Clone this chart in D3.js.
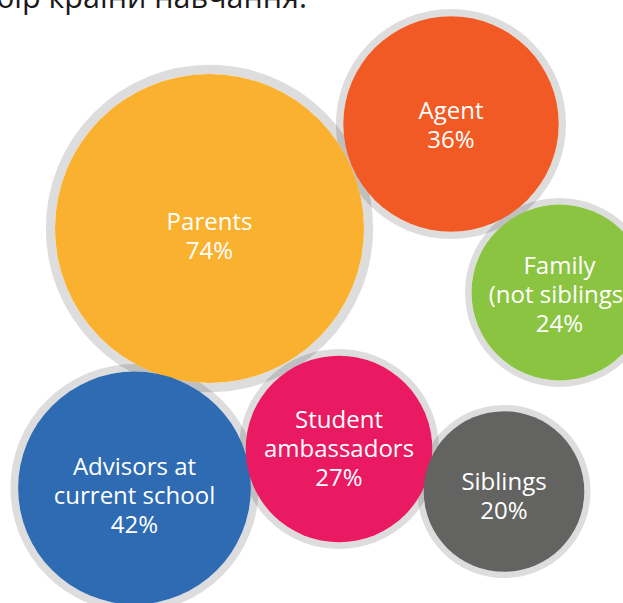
<!DOCTYPE html>
<html>
<head>
<meta charset="utf-8">
<script src="https://cdn.jsdelivr.net/npm/d3@7"></script>
<style>
  html, body { margin: 0; padding: 0; background: #fff; overflow: hidden; }
  svg { display: block; }
</style>
</head>
<body>
<svg id="chart" width="623" height="603"></svg>
<script>
// ---- data ----
const titleText = "Хто впливає на вибір країни навчання.";
const categories = ["Parents", "Agent", "Family\n(not siblings)", "Advisors at\ncurrent school", "Student\nambassadors", "Siblings"];
const values = [74, 36, 24, 42, 27, 20];
const colors = ["#FAB12F", "#F15A24", "#8BC441", "#2E6BB2", "#E91962", "#636461"];

// ---- layout (bubble centres and label offsets in px) ----
const centresX = [209.5, 451, 559.5, 134.5, 339, 504];
const centresY = [228.5, 124, 292.5, 488, 449, 491.5];
const labelDy = [15.5, 9, 10.5, 16, 8, 12.5];

const svg = d3.select("#chart");

const r = d3.scaleSqrt().domain([0, 74]).range([0, 154.5]);

const nodes = categories.map((c, i) => ({
  name: c, value: values[i], color: colors[i], x: centresX[i], y: centresY[i], dy: labelDy[i], r: r(values[i])
}));

// title (cut off at top)
svg.append("text")
  .attr("x", 307).attr("y", 7.5)
  .attr("text-anchor", "end")
  .attr("font-family", "'Open Sans', 'Noto Sans', sans-serif")
  .attr("font-size", 30.5)
  .attr("fill", "#1a1a1a")
  .text(titleText);

const ringW = d => 3 + d.r * 0.04;

// rings first (semi-transparent, overlapping darkens)
svg.append("g").selectAll("circle.ring").data(nodes).join("circle")
  .attr("class", "ring")
  .attr("cx", d => d.x).attr("cy", d => d.y)
  .attr("r", d => d.r + ringW(d) / 2)
  .attr("fill", "none")
  .attr("stroke", "rgba(0,0,0,0.135)")
  .attr("stroke-width", d => ringW(d));

// fills
svg.append("g").selectAll("circle.fill").data(nodes).join("circle")
  .attr("class", "fill")
  .attr("cx", d => d.x).attr("cy", d => d.y)
  .attr("r", d => d.r)
  .attr("fill", d => d.color);

// labels
const lineH = 29;
const labels = svg.append("g").selectAll("text").data(nodes).join("text")
  .attr("text-anchor", "middle")
  .attr("font-family", "'Open Sans', 'Noto Sans', sans-serif")
  .attr("font-weight", 400)
  .attr("font-size", 24)
  .attr("fill", "#ffffff");

labels.each(function(d) {
  const lines = d.name.split("\n").concat([d.value + "%"]);
  const n = lines.length;
  const t = d3.select(this);
  lines.forEach((ln, k) => {
    t.append("tspan")
      .attr("x", d.x)
      .attr("y", d.y + (k - (n - 1) / 2) * lineH + d.dy)
      .text(ln);
  });
});
</script>
</body>
</html>
